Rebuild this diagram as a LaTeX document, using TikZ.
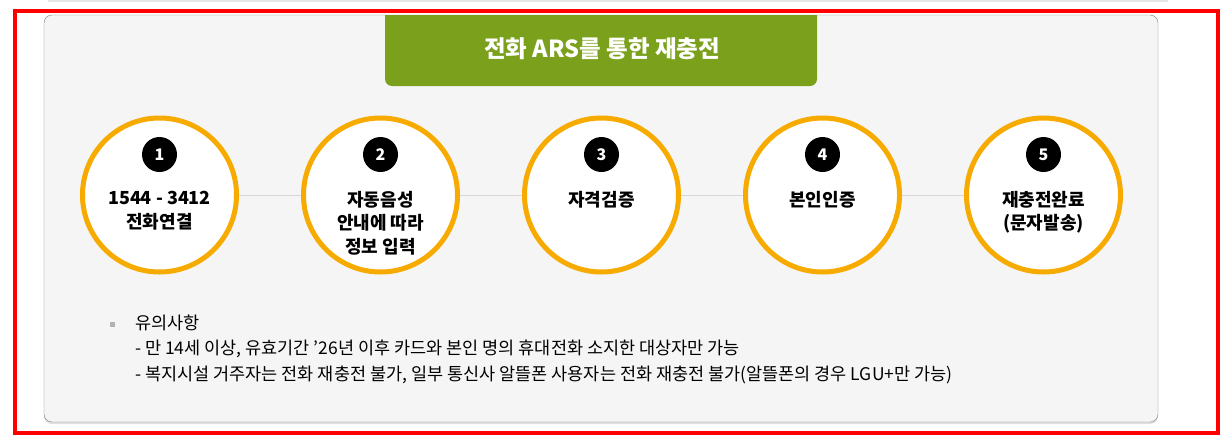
\documentclass[tikz,border=0pt]{standalone}
\usepackage{fontspec}
\setmainfont{Noto Sans CJK KR}
\usetikzlibrary{positioning,shadows}
\definecolor{tabgreen}{RGB}{122,160,28}
\definecolor{ringorange}{RGB}{247,170,0}
\definecolor{panelgray}{RGB}{245,245,245}
\definecolor{linegray}{RGB}{215,215,215}

\begin{document}
\begin{tikzpicture}[x=1pt, y=-1pt,
	stage/.style={circle, draw=ringorange, line width=5pt, fill=white, minimum size=154pt, inner sep=0pt},
	badge/.style={circle, fill=black, text=white, minimum size=35pt, inner sep=0pt, font=\fontsize{16}{16}\selectfont\bfseries},
	stagetext/.style={anchor=north, align=center, inner sep=0pt, font=\fontsize{18}{23.5}\selectfont\bfseries},
	note/.style={anchor=base west, inner sep=0pt, font=\fontsize{17.5}{20}\selectfont}]
			\useasboundingbox (0,0) rectangle (1230,442);
			\draw [line width=2pt, black!10] (48,1) -- (1168,1);
			\draw [red, line width=4pt] (15,11) rectangle (1218,433);
			
			% panel and title tab
			\draw [rounded corners=8pt, draw=black!50, fill=panelgray, drop shadow={shadow xshift=0pt, shadow yshift=-2pt, opacity=0.25}] (44,15) rectangle (1158,422);
			\fill [tabgreen] (385,15) -- (385,79) arc[start angle=180, end angle=90, radius=7] -- (810,86) arc[start angle=90, end angle=0, radius=7] -- (817,15) -- cycle;
			\node [text=white, font=\fontsize{23.5}{23.5}\selectfont\bfseries] (Title) at (602,49) {전화 ARS를 통한 재충전};
			
			\begin{scope}[node distance=221pt, on grid]
			\node [stage] (Stage 1) at (159.5,195) {};
			\node [stage, right=of Stage 1] (Stage 2) {};
			\node [stage, right=of Stage 2] (Stage 3) {};
			\node [stage, right=of Stage 3] (Stage 4) {};
			\node [stage, right=of Stage 4] (Stage 5) {};
			
			\node [badge, above=40.5pt of Stage 1] (Badge 1) {1};
			\node [badge, above=40.5pt of Stage 2] (Badge 2) {2};
			\node [badge, above=40.5pt of Stage 3] (Badge 3) {3};
			\node [badge, above=40.5pt of Stage 4] (Badge 4) {4};
			\node [badge, above=40.5pt of Stage 5] (Badge 5) {5};
			\end{scope}
			
			\draw [linegray, line width=1pt] (Stage 1) -- (Stage 2);
			\draw [linegray, line width=1pt] (Stage 2) -- (Stage 3);
			\draw [linegray, line width=1pt] (Stage 3) -- (Stage 4);
			\draw [linegray, line width=1pt] (Stage 4) -- (Stage 5);
			
			\node [stagetext, yshift=4pt] (Text 1) at (Stage 1.center) {1544 - 3412\\전화연결};
			\node [stagetext, yshift=4pt] (Text 2) at (Stage 2.center) {자동음성\\안내에 따라\\정보 입력};
			\node [stagetext, yshift=4pt] (Text 3) at (Stage 3.center) {자격검증};
			\node [stagetext, yshift=4pt] (Text 4) at (Stage 4.center) {본인인증};
			\node [stagetext, yshift=4pt] (Text 5) at (Stage 5.center) {재충전완료\\(문자발송)};
			
			% notes
			\node [rectangle, fill=black!30, minimum size=5pt, inner sep=0pt] (Bullet) at (112.5,324) {};
			\node [note] (Note 0) at (135,329) {유의사항};
			\node [note, below=25.5pt of Note 0.base west, anchor=base west] (Note 1) {- 만 14세 이상, 유효기간 '26년 이후 카드와 본인 명의 휴대전화 소지한 대상자만 가능};
			\node [note, below=25.5pt of Note 1.base west, anchor=base west] (Note 2) {- 복지시설 거주자는 전화 재충전 불가, 일부 통신사 알뜰폰 사용자는 전화 재충전 불가(알뜰폰의 경우 LGU+만 가능)};
		\end{tikzpicture}
\end{document}
